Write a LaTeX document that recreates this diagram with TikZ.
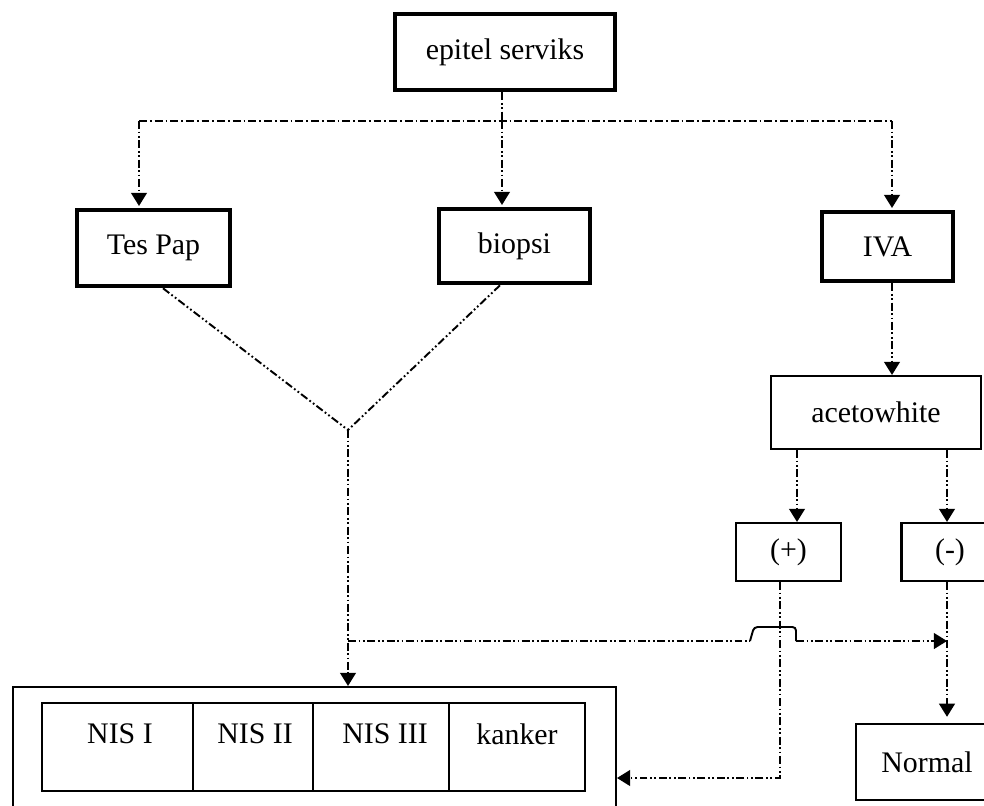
\documentclass[tikz,border=0pt]{standalone}
\usepackage{fontspec}
\setmainfont{Liberation Serif}
\usetikzlibrary{arrows.meta,calc}
\tikzset{
  every node/.style={font=\fontsize{17}{20}\selectfont},
  thickbox/.style={draw, line width=2.6pt, inner sep=0pt},
  thinbox/.style={draw, line width=1.2pt, inner sep=0pt},
  txt/.style={inner sep=0pt},
  dashdot/.style={line width=1.1pt, dash pattern=on 4.5pt off 1.7pt on 1pt off 1.7pt},
  dashdotdot/.style={line width=1.1pt, dash pattern=on 4.5pt off 1.5pt on 1pt off 1.5pt on 1pt off 1.5pt},
  tip/.style={-{Triangle[width=9pt,length=7.5pt]}},
}
\begin{document}
\begin{tikzpicture}[x=0.02cm,y=-0.02cm]
\useasboundingbox (0,0) rectangle (984,805);
\fill[white] (0,0) rectangle (984,805);

% boxes
\node[thickbox, minimum width=4.4cm,  minimum height=1.52cm] (epitel) at (505,52)     {epitel serviks};
\node[thickbox, minimum width=3.06cm, minimum height=1.52cm] (tespap) at (153.5,248)  {Tes Pap};
\node[thickbox, minimum width=3.02cm, minimum height=1.48cm] (biopsi) at (514.5,246)  {biopsi};
\node[thickbox, minimum width=2.62cm, minimum height=1.38cm] (iva)    at (887.5,246.5){IVA};
\node[thinbox,  minimum width=4.2cm,  minimum height=1.46cm] (aceto)  at (876,412.5)  {acetowhite};
\node[thinbox,  minimum width=2.1cm,  minimum height=1.16cm] (plus)   at (788.5,552)  {(+)};
\node[thinbox,  minimum width=1.94cm, minimum height=1.16cm] (minus)  at (950,552)    {(-)};
\node[thinbox,  minimum width=2.84cm, minimum height=1.52cm] (normal) at (927,762)    {Normal};

% result group with its four cells
\node[thinbox, minimum width=12.06cm, minimum height=2.42cm] (group) at (314.5,747.5) {};
\node[thinbox, minimum width=3.02cm, minimum height=1.76cm] (nis1) at (117.5,747) {};
\node[thinbox, minimum width=2.4cm,  minimum height=1.76cm] (nis2) at (253,747)   {};
\node[thinbox, minimum width=2.72cm, minimum height=1.76cm] (nis3) at (381,747)   {};
\node[thinbox, minimum width=2.72cm, minimum height=1.76cm] (kank) at (517,747)   {};
\node[txt] (t1) at (120,734) {NIS I};
\node[txt] (t2) at (255,734) {NIS II};
\node[txt] (t3) at (385,734) {NIS III};
\node[txt] (t4) at (517,734) {kanker};

% branching from the top box
\coordinate (hub) at (502,121);
\coordinate (tl)  at (139,121);
\coordinate (tr)  at (892,121);
\draw[dashdotdot] (epitel.south -| hub) -- (hub);
\draw[dashdot] (tl) -- (tr);
\draw[dashdotdot, tip, shorten >=1pt] (tl) -- (tl |- tespap.north);
\draw[dashdotdot, tip, shorten >=1pt] (hub) -- (hub |- biopsi.north);
\draw[dashdotdot, tip, shorten >=1pt] (tr) -- (tr |- iva.north);

% IVA branch
\draw[dashdotdot, tip] (tr |- iva.south) -- (tr |- aceto.north);
\coordinate (pin) at (797,450);
\coordinate (min) at (947,450);
\draw[dashdotdot, tip] (pin) -- (pin |- plus.north);
\draw[dashdotdot, tip] (min) -- (min |- minus.north);
\draw[dashdotdot, tip, shorten >=3.5pt] (min |- minus.south) -- (min |- normal.north);
\coordinate (pturn) at (780,778);
\draw[dashdotdot, tip] (pturn |- plus.south) -- (pturn) -- (pturn -| group.east);

% merging of Tes Pap and biopsi
\coordinate (junc) at (348,430);
\draw[dashdotdot] ($(tespap.south)+(9.5,0)$) -- (junc);
\draw[dashdotdot] ($(biopsi.south)+(-14.5,0)$) -- (junc);
\draw[dashdotdot, tip] (junc) -- (junc |- group.north);

% crossing line with a hop over the (+) connector
\coordinate (hjoin) at (348,641);
\coordinate (bumpa) at (750,641);
\coordinate (bumpb) at (796,641);
\draw[dashdotdot] (hjoin) -- (bumpa);
\draw[line width=1.1pt, rounded corners=2pt] (bumpa) -- ++(4,-14) -- ++(42,0) -- (bumpb);
\draw[dashdotdot, tip] (bumpb) -- (min |- bumpb);
\end{tikzpicture}
\end{document}
